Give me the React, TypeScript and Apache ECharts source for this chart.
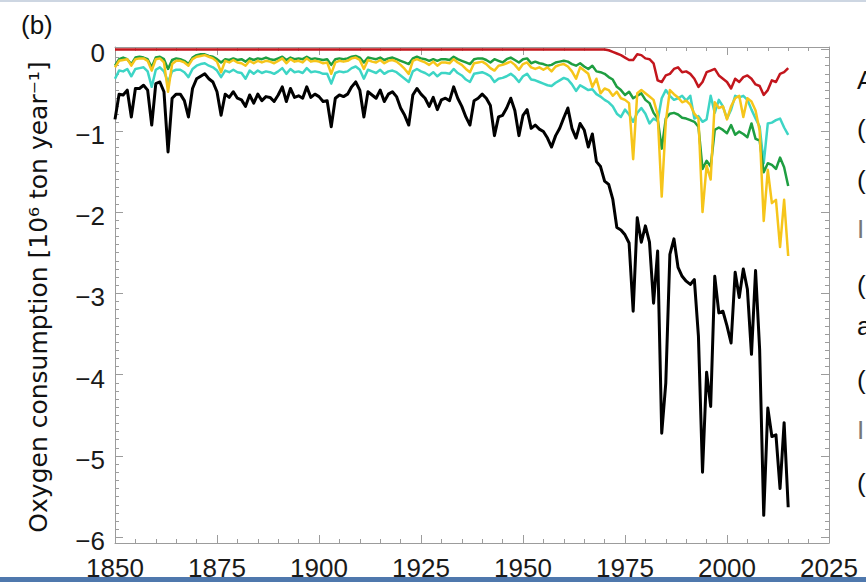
import React, { useEffect, useRef } from "react";
import * as echarts from "echarts";

const startYear = 1850;
const endYear = 2015;

const blackSeries = [
  -0.86, -0.55, -0.56, -0.5, -0.83, -0.48, -0.48, -0.44, -0.5, -0.93,
  -0.42, -0.4, -0.52, -1.26, -0.6, -0.55, -0.55, -0.63, -0.83, -0.48,
  -0.36, -0.33, -0.3, -0.36, -0.4, -0.52, -0.81, -0.55, -0.59, -0.52,
  -0.6, -0.62, -0.7, -0.56, -0.66, -0.55, -0.63, -0.58, -0.59, -0.64,
  -0.56, -0.46, -0.64, -0.48, -0.59, -0.57, -0.6, -0.46, -0.59, -0.55,
  -0.58, -0.64, -0.63, -0.95, -0.6, -0.56, -0.58, -0.55, -0.46, -0.4,
  -0.5, -0.83, -0.52, -0.56, -0.6, -0.5, -0.64, -0.55, -0.52, -0.58,
  -0.72, -0.81, -0.93, -0.56, -0.48, -0.55, -0.6, -0.7, -0.59, -0.74,
  -0.62, -0.6, -0.63, -0.46, -0.6, -0.7, -0.83, -0.93, -0.63, -0.6,
  -0.55, -0.6, -0.69, -1.06, -0.83, -0.81, -0.72, -0.6, -0.75, -1.06,
  -0.81, -0.74, -0.97, -0.93, -0.98, -1.01, -1.09, -1.2, -1.06, -0.97,
  -0.84, -0.72, -0.97, -1.09, -0.91, -0.99, -1.2, -1.04, -1.38, -1.44,
  -1.62, -1.66, -1.84, -2.19, -2.22, -2.28, -2.38, -3.22, -2.07, -2.37,
  -2.17, -2.37, -3.12, -2.48, -4.72, -4.1, -2.52, -2.33, -2.68, -2.79,
  -2.85, -2.89, -2.83, -3.53, -5.2, -3.97, -4.39, -2.79, -3.24, -3.22,
  -3.4, -3.61, -2.74, -3.05, -2.7, -2.95, -3.75, -2.72, -3.69, -5.73,
  -4.41, -4.76, -4.74, -5.4, -4.59, -5.63,
];

const greenSeries = [
  -0.2, -0.12, -0.1, -0.12, -0.18, -0.1, -0.09, -0.1, -0.12, -0.22,
  -0.1, -0.09, -0.12, -0.24, -0.13, -0.11, -0.12, -0.14, -0.18, -0.1,
  -0.07, -0.06, -0.06, -0.08, -0.09, -0.12, -0.16, -0.12, -0.13, -0.11,
  -0.13, -0.12, -0.15, -0.11, -0.13, -0.11, -0.12, -0.1, -0.12, -0.13,
  -0.11, -0.09, -0.13, -0.1, -0.12, -0.11, -0.12, -0.09, -0.12, -0.11,
  -0.12, -0.13, -0.12, -0.19, -0.12, -0.11, -0.12, -0.11, -0.09, -0.08,
  -0.1, -0.16, -0.1, -0.11, -0.12, -0.1, -0.13, -0.11, -0.1, -0.12,
  -0.14, -0.16, -0.18, -0.11, -0.09, -0.11, -0.12, -0.14, -0.12, -0.14,
  -0.12, -0.12, -0.13, -0.09, -0.12, -0.14, -0.16, -0.18, -0.12, -0.11,
  -0.11, -0.13, -0.16, -0.12, -0.14, -0.16, -0.12, -0.1, -0.13, -0.16,
  -0.12, -0.11, -0.17, -0.15, -0.17, -0.18, -0.2, -0.19, -0.16, -0.15,
  -0.14, -0.15, -0.18, -0.2, -0.17, -0.21, -0.24, -0.2, -0.27, -0.28,
  -0.3, -0.34, -0.37, -0.46, -0.5, -0.56, -0.52, -0.6, -0.57, -0.54,
  -0.62, -0.66, -0.78, -0.85, -1.22, -0.85, -0.79, -0.78, -0.8, -0.84,
  -0.85, -0.87, -0.89, -0.95, -1.47, -1.37, -1.44, -0.99, -0.96, -0.99,
  -1.03, -0.93, -1.05, -1.01, -1.04, -1.08, -0.91, -1.1, -1.12, -1.51,
  -1.4, -1.42, -1.47, -1.33, -1.45, -1.68,
];

const yellowSeries = [
  -0.22, -0.14, -0.13, -0.12, -0.2, -0.12, -0.11, -0.11, -0.14, -0.26,
  -0.12, -0.11, -0.16, -0.52, -0.18, -0.14, -0.14, -0.16, -0.2, -0.12,
  -0.09, -0.08, -0.07, -0.09, -0.11, -0.15, -0.28, -0.14, -0.16, -0.13,
  -0.16, -0.17, -0.2, -0.14, -0.17, -0.14, -0.16, -0.14, -0.15, -0.17,
  -0.14, -0.11, -0.17, -0.12, -0.15, -0.14, -0.16, -0.11, -0.15, -0.14,
  -0.15, -0.17, -0.16, -0.3, -0.16, -0.14, -0.15, -0.14, -0.11, -0.1,
  -0.13, -0.24, -0.13, -0.15, -0.16, -0.13, -0.17, -0.14, -0.13, -0.15,
  -0.19, -0.24, -0.3, -0.14, -0.12, -0.14, -0.16, -0.19, -0.15, -0.2,
  -0.16, -0.16, -0.17, -0.12, -0.16, -0.19, -0.24, -0.28, -0.17, -0.16,
  -0.15, -0.18, -0.23, -0.26, -0.2, -0.19, -0.17, -0.15, -0.19, -0.25,
  -0.18, -0.16, -0.22, -0.24, -0.22, -0.25, -0.22, -0.27, -0.21, -0.19,
  -0.18, -0.21, -0.27, -0.36, -0.22, -0.26, -0.3, -0.46, -0.36, -0.54,
  -0.48, -0.5, -0.57, -0.52, -0.6, -0.62, -0.66, -1.35, -0.54, -0.5,
  -0.54, -0.58, -0.62, -0.8, -1.81, -0.89, -0.5, -0.55, -0.59, -0.65,
  -0.63, -0.68, -0.79, -0.85, -2.0, -1.43, -1.6, -0.65, -0.72, -0.7,
  -0.86, -0.7, -0.6, -0.57, -0.83, -0.6, -0.64, -0.75, -1.0, -2.11,
  -1.48, -1.89, -1.85, -2.43, -1.85, -2.54,
];

const cyanSeries = [
  -0.36, -0.26, -0.27, -0.24, -0.33, -0.24, -0.23, -0.22, -0.27, -0.46,
  -0.25, -0.22, -0.27, -0.4, -0.27, -0.25, -0.25, -0.28, -0.34, -0.24,
  -0.2, -0.18, -0.17, -0.2, -0.22, -0.26, -0.34, -0.26, -0.28, -0.25,
  -0.28, -0.29, -0.36, -0.26, -0.3, -0.26, -0.29, -0.27, -0.28, -0.3,
  -0.27, -0.23, -0.3, -0.24, -0.28, -0.27, -0.29, -0.23, -0.28, -0.27,
  -0.28, -0.3, -0.3, -0.42, -0.29, -0.27, -0.28, -0.27, -0.23, -0.21,
  -0.25, -0.36, -0.25, -0.27, -0.29, -0.25, -0.3, -0.27, -0.26, -0.28,
  -0.32, -0.36, -0.4, -0.27, -0.24, -0.27, -0.29, -0.32, -0.28, -0.33,
  -0.29, -0.29, -0.3, -0.24, -0.29, -0.32, -0.37, -0.4, -0.3, -0.29,
  -0.28, -0.3, -0.33, -0.4, -0.36, -0.35, -0.33, -0.3, -0.34, -0.4,
  -0.33, -0.3, -0.37, -0.38, -0.4, -0.42, -0.44, -0.45, -0.41, -0.38,
  -0.35, -0.37, -0.43, -0.51, -0.44, -0.47, -0.5, -0.49, -0.55, -0.58,
  -0.62, -0.65, -0.7, -0.79, -0.83, -0.74, -0.8, -0.89, -0.78, -0.72,
  -0.79, -0.91, -0.85, -0.88, -0.6, -0.5, -0.57, -0.62, -0.6, -0.57,
  -0.63, -0.57, -0.85, -0.82, -0.89, -0.86, -0.57, -0.78, -0.62, -0.7,
  -0.85, -0.74, -0.57, -0.59, -0.57, -0.62, -0.74, -0.85, -0.95, -1.4,
  -0.91, -0.9, -0.87, -0.85, -0.96, -1.05,
];

const redSeries = [
  0, 0, 0, 0, 0, 0, 0, 0, 0, 0,
  0, 0, 0, 0, 0, 0, 0, 0, 0, 0,
  0, 0, 0, 0, 0, 0, 0, 0, 0, 0,
  0, 0, 0, 0, 0, 0, 0, 0, 0, 0,
  0, 0, 0, 0, 0, 0, 0, 0, 0, 0,
  0, 0, 0, 0, 0, 0, 0, 0, 0, 0,
  0, 0, 0, 0, 0, 0, 0, 0, 0, 0,
  0, 0, 0, 0, 0, 0, 0, 0, 0, 0,
  0, 0, 0, 0, 0, 0, 0, 0, 0, 0,
  0, 0, 0, 0, 0, 0, 0, 0, 0, 0,
  0, 0, 0, 0, 0, 0, 0, 0, 0, 0,
  0, 0, 0, 0, 0, 0, 0, 0, 0, 0,
  0, -0.01, -0.03, -0.05, -0.07, -0.1, -0.13, -0.13, -0.06, -0.07,
  -0.11, -0.12, -0.17, -0.38, -0.4, -0.32, -0.3, -0.24, -0.22, -0.28,
  -0.27, -0.3, -0.36, -0.46, -0.4, -0.28, -0.26, -0.24, -0.32, -0.36,
  -0.4, -0.48, -0.36, -0.4, -0.34, -0.32, -0.36, -0.43, -0.45, -0.56,
  -0.5, -0.38, -0.4, -0.3, -0.28, -0.23,
];

const yLabelValues = [0, -1, -2, -3, -4, -5, -6];
const xMin = 1850;
const xMax = 2025;
const xStep = 25;
const yMin = -6.07;
const yMax = 0.03;

const rightFragments = ["A", "(", "(", "I", "(", "a", "(", "I", "("];
const fragmentY = [80, 129, 180, 229, 285, 326, 380, 430, 483];

const FONT = "'Liberation Sans', Arial, Helvetica, sans-serif";
const AXIS_COLOR = "#9c9c9c";

export default function App() {
  const ref = useRef<HTMLDivElement>(null);

  useEffect(() => {
    if (!ref.current) return;
    const chart = echarts.init(ref.current, undefined, { renderer: "svg" });

    const years: number[] = [];
    for (let y = startYear; y <= endYear; y++) years.push(y);
    const pair = (arr: number[]) => years.map((y, i) => [y, arr[i]]);

    const minorY: number[] = [];
    for (let k = -60; k <= 0; k++) {
      if (k % 10 !== 0) minorY.push(k / 10);
    }

    const xBase = (position: "top" | "bottom", showLabel: boolean) => ({
      type: "value",
      min: xMin,
      max: xMax,
      interval: xStep,
      position,
      axisLine: { show: true, onZero: false, lineStyle: { color: AXIS_COLOR, width: 1 } },
      axisTick: { show: true, inside: true, length: 8, lineStyle: { color: AXIS_COLOR, width: 1 } },
      minorTick: { show: true, splitNumber: 5, length: 4, lineStyle: { color: AXIS_COLOR, width: 1 } },
      splitLine: { show: false },
      axisLabel: {
        show: showLabel,
        fontSize: 26,
        fontFamily: FONT,
        color: "#1a1a1a",
        margin: 12,
        formatter: (v: number) => String(Math.round(v)),
      },
    });

    const yBase = (position: "left" | "right", ticks: number[], len: number, showLabel: boolean, showLine: boolean) => ({
      type: "value",
      min: yMin,
      max: yMax,
      position,
      axisLine: { show: showLine, onZero: false, lineStyle: { color: AXIS_COLOR, width: 1 } },
      axisTick: { show: true, inside: true, length: len, customValues: ticks, lineStyle: { color: AXIS_COLOR, width: 1 } },
      splitLine: { show: false },
      axisLabel: {
        show: showLabel,
        customValues: yLabelValues,
        margin: 10,
        formatter: (v: number) => "{v|" + (v === 0 ? "0" : "\u2212" + Math.abs(Math.round(v))) + "}",
        rich: {
          v: {
            fontSize: 26,
            fontFamily: FONT,
            color: "#1a1a1a",
            padding: [8, 0, 0, 0],
          },
        },
      },
    });

    const lineSeries = (name: string, data: number[], color: string, width: number) => ({
      name,
      type: "line",
      xAxisIndex: 0,
      yAxisIndex: 0,
      data: pair(data),
      showSymbol: false,
      symbol: "none",
      lineStyle: { color, width, join: "round" },
      z: 3,
    });

    const graphics: any[] = [
      { type: "rect", shape: { x: 0, y: 0, width: 866, height: 2 }, style: { fill: "#cdd6e2" } },
      { type: "rect", shape: { x: 0, y: 577, width: 866, height: 5 }, style: { fill: "#4f78ad" }, z: 10 },
      {
        type: "text",
        x: 21,
        y: 25,
        style: { text: "(b)", font: `26px ${FONT}`, fill: "#111", textVerticalAlign: "middle" },
      },
      {
        type: "text",
        x: 38,
        y: 297,
        rotation: Math.PI / 2,
        style: {
          text: "Oxygen consumption [10\u2076 ton year\u207B\u00B9]",
          font: "25px 'DejaVu Sans', sans-serif",
          fill: "#111",
          textAlign: "center",
          textVerticalAlign: "middle",
        },
      },
    ];
    rightFragments.forEach((t, i) => {
      graphics.push({
        type: "text",
        x: 857,
        y: fragmentY[i],
        style: { text: t, font: `26px ${FONT}`, fill: t === "I" ? "#777" : "#111", textVerticalAlign: "middle" },
      });
    });

    chart.setOption({
      animation: false,
      backgroundColor: "#ffffff",
      grid: { left: 115, top: 47, right: 37, bottom: 39, containLabel: false },
      xAxis: [xBase("bottom", true), xBase("top", false)],
      yAxis: [
        yBase("left", yLabelValues, 8, true, true),
        yBase("left", minorY, 4, false, false),
        yBase("right", yLabelValues, 8, false, true),
        yBase("right", minorY, 4, false, false),
      ],
      series: [
        lineSeries("black", blackSeries, "#000000", 3),
        lineSeries("cyan", cyanSeries, "#3dd5c5", 2.5),
        lineSeries("green", greenSeries, "#1e9e41", 2.5),
        lineSeries("yellow", yellowSeries, "#f6c51a", 2.5),
        lineSeries("red", redSeries, "#c3161d", 2.5),
      ],
      graphic: graphics,
    });

    return () => chart.dispose();
  }, []);

  return (
    <div
      ref={ref}
      style={{ position: "fixed", left: 0, top: 0, width: 866, height: 582, background: "#fff" }}
    />
  );
}
